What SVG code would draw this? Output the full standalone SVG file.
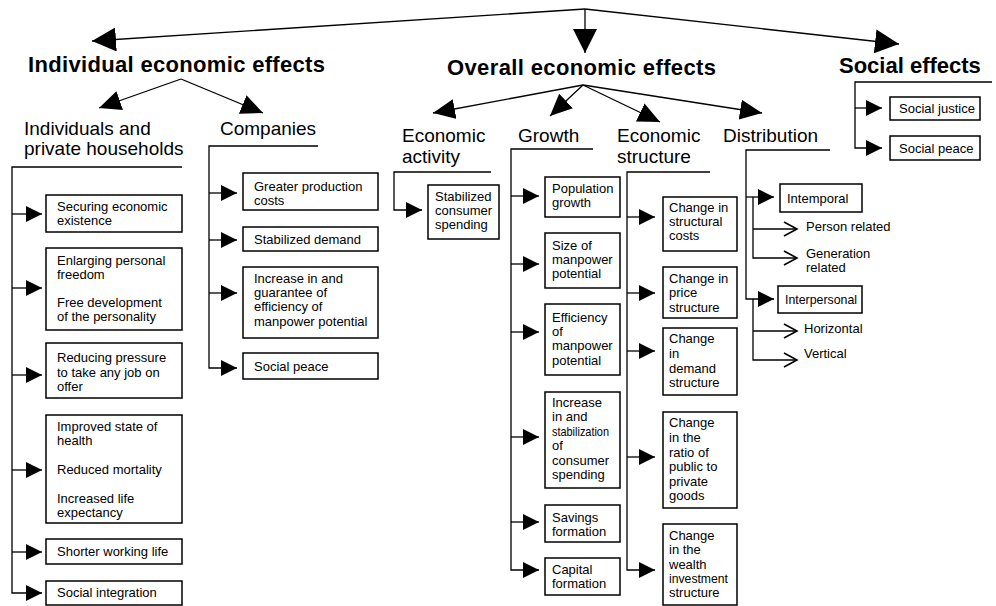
<svg xmlns="http://www.w3.org/2000/svg" width="996" height="606" viewBox="0 0 996 606">
<defs>
<style>
.ln{stroke:#000;stroke-width:1.3;fill:none}
.bx{fill:#fff;stroke:#000;stroke-width:1.5}
.t{font-family:"Liberation Sans",Arial,sans-serif;font-size:13px;fill:#000}
.h1{font-family:"Liberation Sans",Arial,sans-serif;font-size:22px;font-weight:bold;fill:#000}
.h2{font-family:"Liberation Sans",Arial,sans-serif;font-size:19px;fill:#000}
</style>
<marker id="aBig" viewBox="0 0 24 24" refX="24" refY="12" markerWidth="24" markerHeight="24" markerUnits="userSpaceOnUse" orient="auto"><path d="M0,0 L24,12 L0,24 Z" fill="#000"/></marker>
<marker id="aMid" viewBox="0 0 22 20" refX="22" refY="10" markerWidth="22" markerHeight="20" markerUnits="userSpaceOnUse" orient="auto"><path d="M0,0 L22,10 L0,20 Z" fill="#000"/></marker>
<marker id="aSm" viewBox="0 0 16 16" refX="16" refY="8" markerWidth="16" markerHeight="16" markerUnits="userSpaceOnUse" orient="auto"><path d="M0,0 L16,8 L0,16 Z" fill="#000"/></marker>
<marker id="aOpen" viewBox="0 0 16 16" refX="14" refY="8" markerWidth="16" markerHeight="16" markerUnits="userSpaceOnUse" orient="auto"><path d="M1,1 L14,8 L1,15" fill="none" stroke="#000" stroke-width="1.6"/></marker>
</defs>
<rect width="996" height="606" fill="#fff"/>

<g id="connectors">
<line class="ln" x1="585" y1="9" x2="92" y2="41" marker-end="url(#aBig)"/>
<line class="ln" x1="585" y1="9" x2="585" y2="53" marker-end="url(#aBig)"/>
<line class="ln" x1="585" y1="9" x2="899" y2="44" marker-end="url(#aBig)"/>
<line class="ln" x1="181" y1="79" x2="99" y2="108" marker-end="url(#aMid)"/>
<line class="ln" x1="181" y1="79" x2="263" y2="113" marker-end="url(#aMid)"/>
<line class="ln" x1="583" y1="85" x2="433" y2="113" marker-end="url(#aMid)"/>
<line class="ln" x1="583" y1="85" x2="550" y2="116" marker-end="url(#aMid)"/>
<line class="ln" x1="583" y1="85" x2="660" y2="122" marker-end="url(#aMid)"/>
<line class="ln" x1="583" y1="85" x2="762" y2="113" marker-end="url(#aMid)"/>
<path class="ln" d="M182,167 H12 V593 H42" marker-end="url(#aSm)"/>
<path class="ln" d="M12,214 H42" marker-end="url(#aSm)"/>
<path class="ln" d="M12,288 H42" marker-end="url(#aSm)"/>
<path class="ln" d="M12,375 H42" marker-end="url(#aSm)"/>
<path class="ln" d="M12,470 H42" marker-end="url(#aSm)"/>
<path class="ln" d="M12,552 H42" marker-end="url(#aSm)"/>
<path class="ln" d="M318,146 H209 V368 H237" marker-end="url(#aSm)"/>
<path class="ln" d="M209,193 H237" marker-end="url(#aSm)"/>
<path class="ln" d="M209,240 H237" marker-end="url(#aSm)"/>
<path class="ln" d="M209,293 H237" marker-end="url(#aSm)"/>
<path class="ln" d="M491,172 H394 V210 H422" marker-end="url(#aSm)"/>
<path class="ln" d="M593,149 H511 V570 H539" marker-end="url(#aSm)"/>
<path class="ln" d="M511,196 H539" marker-end="url(#aSm)"/>
<path class="ln" d="M511,264 H539" marker-end="url(#aSm)"/>
<path class="ln" d="M511,332 H539" marker-end="url(#aSm)"/>
<path class="ln" d="M511,437 H539" marker-end="url(#aSm)"/>
<path class="ln" d="M511,522 H539" marker-end="url(#aSm)"/>
<path class="ln" d="M710,172 H627 V570 H655" marker-end="url(#aSm)"/>
<path class="ln" d="M627,217 H655" marker-end="url(#aSm)"/>
<path class="ln" d="M627,293 H655" marker-end="url(#aSm)"/>
<path class="ln" d="M627,351 H655" marker-end="url(#aSm)"/>
<path class="ln" d="M627,457 H655" marker-end="url(#aSm)"/>
<path class="ln" d="M830,150 H746 V299 H774" marker-end="url(#aSm)"/>
<path class="ln" d="M746,197 H774" marker-end="url(#aSm)"/>
<path class="ln" d="M753,197 V258 H797" marker-end="url(#aOpen)"/>
<path class="ln" d="M753,229 H797" marker-end="url(#aOpen)"/>
<path class="ln" d="M753,299 V360 H797" marker-end="url(#aOpen)"/>
<path class="ln" d="M753,331 H797" marker-end="url(#aOpen)"/>
<path class="ln" d="M992,82 H855 V148 H882" marker-end="url(#aSm)"/>
<path class="ln" d="M855,108 H882" marker-end="url(#aSm)"/>
</g>

<g id="individual-economic-effects"><text class="h1" x="28" y="72" textLength="297" lengthAdjust="spacing">Individual economic effects</text></g>
<g id="overall-economic-effects"><text class="h1" x="447" y="75" textLength="269" lengthAdjust="spacing">Overall economic effects</text></g>
<g id="social-effects"><text class="h1" x="839" y="73">Social effects</text></g>

<g id="individuals-households"><text class="h2"><tspan x="24" y="135">Individuals and</tspan><tspan x="24" y="155">private households</tspan></text></g>
<g id="companies"><text class="h2" x="220" y="135">Companies</text></g>
<g id="economic-activity"><text class="h2"><tspan x="402" y="142">Economic</tspan><tspan x="402" y="163">activity</tspan></text></g>
<g id="growth"><text class="h2" x="518" y="142">Growth</text></g>
<g id="economic-structure"><text class="h2"><tspan x="617" y="142">Economic</tspan><tspan x="617" y="163">structure</tspan></text></g>
<g id="distribution"><text class="h2" x="723" y="142">Distribution</text></g>

<g id="i1"><rect class="bx" x="46" y="195" width="136" height="37"/><text class="t"><tspan x="57" y="211">Securing economic</tspan><tspan x="57" y="225">existence</tspan></text></g>
<g id="i2"><rect class="bx" x="46" y="248" width="136" height="82"/><text class="t"><tspan x="57" y="265">Enlarging personal</tspan><tspan x="57" y="279">freedom</tspan><tspan x="57" y="307">Free development</tspan><tspan x="57" y="321">of the personality</tspan></text></g>
<g id="i3"><rect class="bx" x="46" y="343" width="136" height="55"/><text class="t"><tspan x="57" y="362">Reducing pressure</tspan><tspan x="57" y="377">to take any job on</tspan><tspan x="57" y="391">offer</tspan></text></g>
<g id="i4"><rect class="bx" x="46" y="415" width="136" height="108"/><text class="t"><tspan x="57" y="431">Improved state of</tspan><tspan x="57" y="445">health</tspan><tspan x="57" y="474">Reduced mortality</tspan><tspan x="57" y="503">Increased life</tspan><tspan x="57" y="517">expectancy</tspan></text></g>
<g id="i5"><rect class="bx" x="46" y="539" width="136" height="25"/><text class="t" x="57" y="556">Shorter working life</text></g>
<g id="i6"><rect class="bx" x="46" y="581" width="136" height="24"/><text class="t" x="57" y="597">Social integration</text></g>

<g id="c1"><rect class="bx" x="243" y="173" width="135" height="37"/><text class="t"><tspan x="254" y="191">Greater production</tspan><tspan x="254" y="205">costs</tspan></text></g>
<g id="c2"><rect class="bx" x="243" y="227" width="135" height="24"/><text class="t" x="254" y="244">Stabilized demand</text></g>
<g id="c3"><rect class="bx" x="243" y="267" width="135" height="71"/><text class="t"><tspan x="254" y="283">Increase in and</tspan><tspan x="254" y="297">guarantee of</tspan><tspan x="254" y="311">efficiency of</tspan><tspan x="254" y="326">manpower potential</tspan></text></g>
<g id="c4"><rect class="bx" x="243" y="353" width="135" height="26"/><text class="t" x="254" y="371">Social peace</text></g>

<g id="a1"><rect class="bx" x="428" y="185" width="71" height="54"/><text class="t"><tspan x="435" y="201">Stabilized</tspan><tspan x="435" y="215">consumer</tspan><tspan x="435" y="229">spending</tspan></text></g>

<g id="g1"><rect class="bx" x="545" y="177" width="75" height="40"/><text class="t"><tspan x="552" y="193">Population</tspan><tspan x="552" y="207">growth</tspan></text></g>
<g id="g2"><rect class="bx" x="545" y="233" width="75" height="55"/><text class="t"><tspan x="552" y="250">Size of</tspan><tspan x="552" y="264">manpower</tspan><tspan x="552" y="278">potential</tspan></text></g>
<g id="g3"><rect class="bx" x="545" y="304" width="75" height="71"/><text class="t"><tspan x="552" y="322">Efficiency</tspan><tspan x="552" y="336">of</tspan><tspan x="552" y="350">manpower</tspan><tspan x="552" y="365">potential</tspan></text></g>
<g id="g4"><rect class="bx" x="545" y="392" width="75" height="96"/><text class="t"><tspan x="552" y="407">Increase</tspan><tspan x="552" y="421">in and</tspan><tspan x="552" y="436" textLength="57" lengthAdjust="spacingAndGlyphs">stabilization</tspan><tspan x="552" y="450">of</tspan><tspan x="552" y="465">consumer</tspan><tspan x="552" y="479">spending</tspan></text></g>
<g id="g5"><rect class="bx" x="545" y="505" width="75" height="37"/><text class="t"><tspan x="552" y="522">Savings</tspan><tspan x="552" y="536">formation</tspan></text></g>
<g id="g6"><rect class="bx" x="545" y="558" width="75" height="37"/><text class="t"><tspan x="552" y="574">Capital</tspan><tspan x="552" y="588">formation</tspan></text></g>

<g id="s1"><rect class="bx" x="663" y="197" width="74" height="54"/><text class="t"><tspan x="669" y="212">Change in</tspan><tspan x="669" y="226">structural</tspan><tspan x="669" y="240">costs</tspan></text></g>
<g id="s2"><rect class="bx" x="663" y="267" width="74" height="51"/><text class="t"><tspan x="669" y="283">Change in</tspan><tspan x="669" y="297">price</tspan><tspan x="669" y="312">structure</tspan></text></g>
<g id="s3"><rect class="bx" x="663" y="328" width="74" height="67"/><text class="t"><tspan x="669" y="343">Change</tspan><tspan x="669" y="358">in</tspan><tspan x="669" y="373">demand</tspan><tspan x="669" y="387">structure</tspan></text></g>
<g id="s4"><rect class="bx" x="663" y="412" width="74" height="96"/><text class="t"><tspan x="669" y="427">Change</tspan><tspan x="669" y="442">in the</tspan><tspan x="669" y="457">ratio of</tspan><tspan x="669" y="471">public to</tspan><tspan x="669" y="486">private</tspan><tspan x="669" y="500">goods</tspan></text></g>
<g id="s5"><rect class="bx" x="663" y="524" width="74" height="81"/><text class="t"><tspan x="669" y="540">Change</tspan><tspan x="669" y="554">in the</tspan><tspan x="669" y="569">wealth</tspan><tspan x="669" y="583" textLength="59" lengthAdjust="spacingAndGlyphs">investment</tspan><tspan x="669" y="597">structure</tspan></text></g>

<g id="d1"><rect class="bx" x="780" y="184" width="82" height="28"/><text class="t" x="787" y="203">Intemporal</text></g>
<g id="d1a"><text class="t" x="806" y="231">Person related</text></g>
<g id="d1b"><text class="t"><tspan x="806" y="258">Generation</tspan><tspan x="806" y="272">related</tspan></text></g>
<g id="d2"><rect class="bx" x="778" y="286" width="84" height="27"/><text class="t" x="785" y="304" textLength="72" lengthAdjust="spacingAndGlyphs">Interpersonal</text></g>
<g id="d2a"><text class="t" x="804" y="333">Horizontal</text></g>
<g id="d2b"><text class="t" x="804" y="358">Vertical</text></g>

<g id="se1"><rect class="bx" x="890" y="97" width="90" height="23"/><text class="t" x="899" y="113">Social justice</text></g>
<g id="se2"><rect class="bx" x="890" y="136" width="90" height="24"/><text class="t" x="899" y="153">Social peace</text></g>
</svg>
